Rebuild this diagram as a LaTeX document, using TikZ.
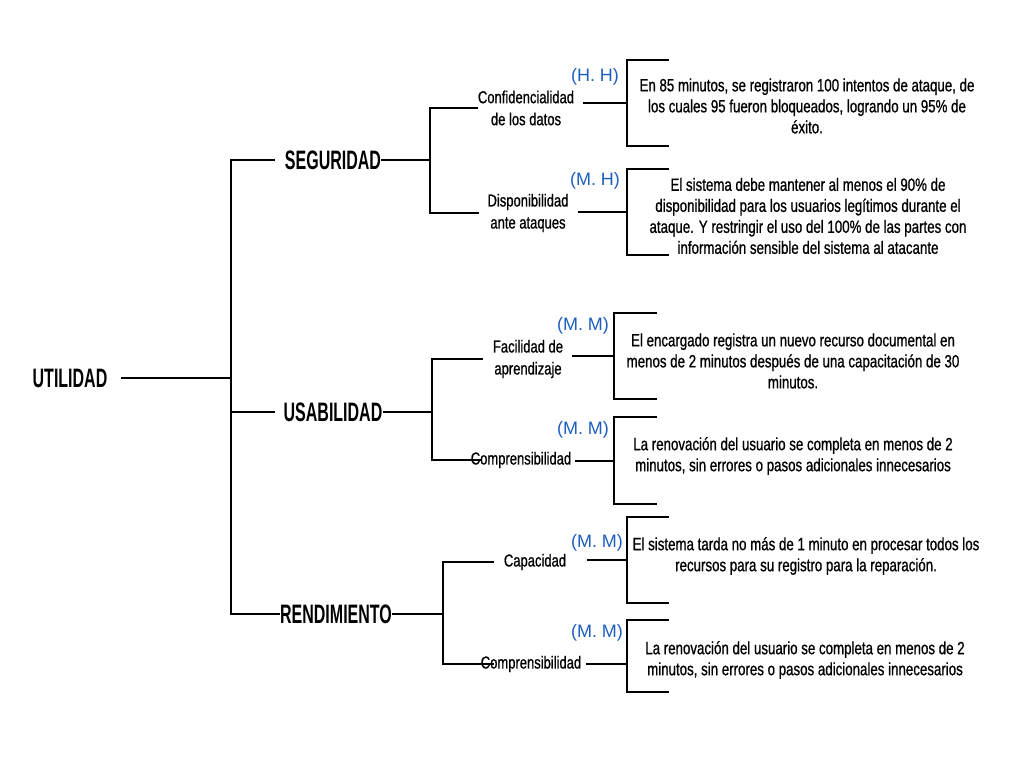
\documentclass[tikz,border=0pt]{standalone}
\usepackage{fontspec}
\setmainfont{Liberation Sans}
\newfontfamily\hand[FakeStretch=0.75,FakeBold=0.8]{Liberation Sans}
\newfontfamily\capsfont[FakeStretch=0.6]{Liberation Sans}
\definecolor{rateblue}{RGB}{30,94,190}
\tikzset{
  capsl/.style={font=\capsfont\bfseries\fontsize{20}{24}\selectfont, inner sep=0pt},
  lbl/.style={font=\hand\fontsize{13}{16.5}\selectfont, align=center, inner sep=0pt},
  body/.style={font=\hand\fontsize{13.3}{15.75}\selectfont, align=center, inner sep=0pt},
  rate/.style={font=\fontsize{13.5}{16}\selectfont, text=rateblue, inner sep=0pt},
  link/.style={line width=1.5pt, line cap=butt}
}
\begin{document}
\begin{tikzpicture}[x=0.75pt,y=-0.75pt]
\useasboundingbox (0,0) rectangle (1024,768);
\fill[white] (0,0) rectangle (1024,768);

% root and trunk
\node[capsl] (u) at (70,378) {UTILIDAD};
\coordinate (tr) at (231,378);
\node[capsl] (seg) at (333,160) {SEGURIDAD};
\node[capsl] (usa) at (333,412) {USABILIDAD};
\node[capsl] (ren) at (336,614) {RENDIMIENTO};
\draw[link] ([xshift=10pt]u.east) -- (tr);
\draw[link] ([xshift=-7.5pt]seg.west) -- (seg.west -| tr) -- (ren.west -| tr) -- (ren.west);
\draw[link] ([xshift=-6pt]usa.west) -- (usa.west -| tr);

% ---------- SEGURIDAD ----------
\coordinate (sbS) at (430,160);
\draw[link] (seg.east) -- (sbS);
\node[lbl] (cd) at (526,108) {Confidencialidad\\de los datos};
\node[lbl] (dp) at (528,213) {Disponibilidad\\ante ataques};
\draw[link] (cd.west) -- (cd.west -| sbS) -- (dp.west -| sbS) -- ([xshift=-6pt]dp.west);

\coordinate (r1) at (627,103);
\draw[link] ([xshift=6.75pt]cd.east |- r1) -- (r1);
\draw[link] (r1) ++(42,-43) -- ++(-42,0) -- ++(0,86) -- ++(42,0);
\node[rate] (h1) at (595,77) {(H. H)};
\node[body] (t1) at (807,106) {En 85 minutos, se registraron 100 intentos de ataque, de\\los cuales 95 fueron bloqueados, logrando un 95\% de\\éxito.};

\coordinate (r2) at (627,212);
\draw[link] ([xshift=6.75pt]dp.east |- r2) -- (r2);
\draw[link] (r2) ++(42,-43) -- ++(-42,0) -- ++(0,86) -- ++(42,0);
\node[rate] (h2) at (595,181) {(M. H)};
\node[body] (t2) at (808,216) {El sistema debe mantener al menos el 90\% de\\disponibilidad para los usuarios legítimos durante el\\ataque. Y restringir el uso del 100\% de las partes con\\información sensible del sistema al atacante};

% ---------- USABILIDAD ----------
\coordinate (sbU) at (432,412);
\draw[link] (usa.east) -- (sbU);
\node[lbl] (fa) at (528,359) {Facilidad de\\aprendizaje};
\node[lbl] (co1) at (521,460) {Comprensibilidad};
\draw[link] ([xshift=-7.5pt]fa.west) -- (fa.west -| sbU) -- (co1.west -| sbU) -- ([xshift=8.25pt]co1.west);

\coordinate (r3) at (614,356);
\draw[link] ([xshift=6.75pt]fa.east |- r3) -- (r3);
\draw[link] (r3) ++(43,-43) -- ++(-43,0) -- ++(0,86) -- ++(43,0);
\node[rate] (m3) at (583,326) {(M. M)};
\node[body] (t3) at (793,361) {El encargado registra un nuevo recurso documental en\\menos de 2 minutos después de una capacitación de 30\\minutos.};

\coordinate (r4) at (614,461);
\draw[link] ([xshift=3pt]co1.east |- r4) -- (r4);
\draw[link] (r4) ++(43,-44) -- ++(-43,0) -- ++(0,87) -- ++(43,0);
\node[rate] (m4) at (583,430) {(M. M)};
\node[body] (t4) at (793,456) {La renovación del usuario se completa en menos de 2\\minutos, sin errores o pasos adicionales innecesarios};

% ---------- RENDIMIENTO ----------
\coordinate (sbR) at (443,614);
\draw[link] (ren.east) -- (sbR);
\node[lbl] (ca) at (535,562) {Capacidad};
\node[lbl] (co2) at (531,664) {Comprensibilidad};
\draw[link] ([xshift=-7.5pt]ca.west) -- (ca.west -| sbR) -- (co2.west -| sbR) -- ([xshift=9.75pt]co2.west);

\coordinate (r5) at (627,560);
\draw[link] ([xshift=15.75pt]ca.east |- r5) -- (r5);
\draw[link] (r5) ++(42,-43) -- ++(-42,0) -- ++(0,86) -- ++(42,0);
\node[rate] (m5) at (597,543) {(M. M)};
\node[body] (t5) at (806,556) {El sistema tarda no más de 1 minuto en procesar todos los\\recursos para su registro para la reparación.};

\coordinate (r6) at (627,664);
\draw[link] ([xshift=3.75pt]co2.east |- r6) -- (r6);
\draw[link] (r6) ++(42,-44) -- ++(-42,0) -- ++(0,72) -- ++(42,0);
\node[rate] (m6) at (597,633) {(M. M)};
\node[body] (t6) at (805,660) {La renovación del usuario se completa en menos de 2\\minutos, sin errores o pasos adicionales innecesarios};
\end{tikzpicture}
\end{document}
